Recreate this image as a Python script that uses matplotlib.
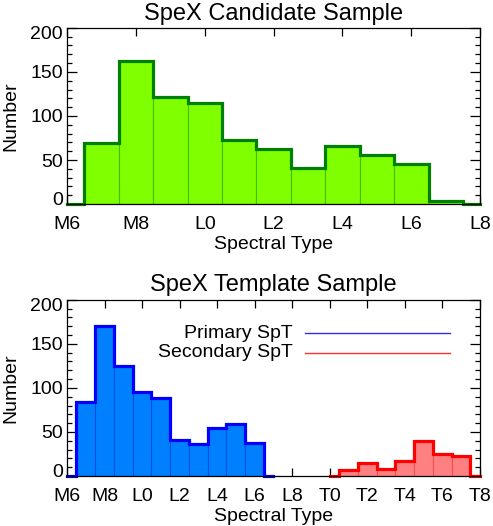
import numpy as np
import matplotlib
matplotlib.use("Agg")
import matplotlib.pyplot as plt
from matplotlib.transforms import ScaledTranslation

plt.rcParams['font.family'] = ['Liberation Sans', 'DejaVu Sans']

# spectral types as numbers: M6=16, L0=20, T0=30
cand_spt = np.arange(16, 29)
cand_num = [0, 69, 162, 121, 115, 73, 62, 41, 66, 56, 45, 4, 0]

prim_spt = np.arange(16, 28)
prim_num = [0, 84, 170, 125, 95, 89, 41, 36, 55, 59, 38, 0]

sec_spt = np.arange(30, 39)
sec_num = [0, 7, 15, 8, 17, 40, 25, 23, 0]

top_ticks = np.arange(16, 29, 2)
top_labels = ['M6', 'M8', 'L0', 'L2', 'L4', 'L6', 'L8']
bot_ticks = np.arange(16, 39, 2)
bot_labels = ['M6', 'M8', 'L0', 'L2', 'L4', 'L6', 'L8', 'T0', 'T2', 'T4', 'T6', 'T8']
y_ticks = [0, 50, 100, 150, 200]

fig = plt.figure(figsize=(4.93, 5.26), dpi=100)


def histo(ax, x, y, fill, sep, line):
    x = np.asarray(x)
    y = np.asarray(y)
    ax.bar(x, y, width=1.0, color=fill, edgecolor=sep, linewidth=0.8, zorder=2)
    ax.step(x, y, where='mid', color=line, linewidth=2.3, zorder=3,
            solid_joinstyle='miter', clip_on=False)


def style(ax, ticks, labels, xmax):
    ax.set_xlim(16, xmax)
    ax.set_ylim(0, 200)
    ax.set_xticks(ticks)
    ax.set_xticklabels(labels)
    ax.set_yticks(y_ticks)
    ax.set_yticks(np.arange(0, 201, 10), minor=True)
    ax.tick_params(which='both', direction='in', top=True, right=True,
                   labelsize=14, width=0.9)
    ax.tick_params(axis='x', which='major', length=6, pad=8.5)
    ax.tick_params(axis='x', which='minor', length=0)
    ax.tick_params(axis='y', which='major', length=7, pad=3)
    ax.tick_params(axis='y', which='minor', length=3.5)
    for s in ax.spines.values():
        s.set_linewidth(0.9)
        s.set_zorder(5)
    ax.set_xlabel('Spectral Type', fontsize=14, labelpad=2)
    ax.set_ylabel('Number', fontsize=14, labelpad=8)
    # IDL-like: end labels pulled inside the axis range
    ylabs = ax.get_yticklabels()
    ylabs[0].set_transform(ylabs[0].get_transform() + ScaledTranslation(0, 6 / 100, fig.dpi_scale_trans))
    ylabs[-1].set_transform(ylabs[-1].get_transform() + ScaledTranslation(0, -5 / 100, fig.dpi_scale_trans))


ax1 = fig.add_axes([0.136, 0.612, 0.838, 0.335])
histo(ax1, cand_spt, cand_num, '#80FF00', '#40C000', '#008000')
style(ax1, top_ticks, top_labels, 28)
ax1.set_title('SpeX Candidate Sample', fontsize=17, pad=6)

ax2 = fig.add_axes([0.136, 0.095, 0.837, 0.335])
histo(ax2, prim_spt, prim_num, '#0080FF', '#0050E0', '#0000FF')
histo(ax2, sec_spt, sec_num, '#FF8080', '#F05050', '#FF0000')
style(ax2, bot_ticks, bot_labels, 38)
ax2.set_title('SpeX Template Sample', fontsize=17, pad=6)

ax2.text(0.548, 0.81, 'Primary SpT', transform=ax2.transAxes, ha='right',
         va='center', fontsize=14)
ax2.text(0.548, 0.70, 'Secondary SpT', transform=ax2.transAxes, ha='right',
         va='center', fontsize=14)
ax2.plot([0.577, 0.928], [0.81, 0.81], transform=ax2.transAxes, color='#3030E0', lw=1.0)
ax2.plot([0.577, 0.928], [0.70, 0.70], transform=ax2.transAxes, color='#FF3030', lw=1.0)

fig.savefig('out.png', dpi=100)
